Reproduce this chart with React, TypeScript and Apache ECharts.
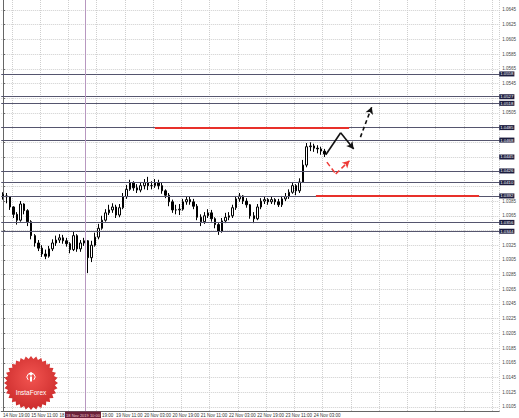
import React, { useEffect, useRef } from 'react';
import * as echarts from 'echarts';

// ---- data (EURUSD-like, one candle per slot) ----
const firstOpen = 1.0394;
const closes = [
  1.0392, 1.0391, 1.0377, 1.0367, 1.0359, 1.0381, 1.0372, 1.0357, 1.0338, 1.0328,
  1.0321, 1.0313, 1.0310, 1.0320, 1.0328, 1.0332, 1.0335, 1.0331, 1.0327, 1.0319,
  1.0338, 1.0320, 1.0328, 1.0331, 1.0308, 1.0325, 1.0336, 1.0348, 1.0359, 1.0369,
  1.0373, 1.0377, 1.0366, 1.0376, 1.0391, 1.0401, 1.0410, 1.0403, 1.0400, 1.0406,
  1.0410, 1.0406, 1.0406, 1.0410, 1.0406, 1.0399, 1.0393, 1.0384, 1.0373, 1.0373,
  1.0374, 1.0384, 1.0387, 1.0384, 1.0378, 1.0363, 1.0357, 1.0365, 1.0369, 1.0361,
  1.0353, 1.0344, 1.0358, 1.0363, 1.0365, 1.0376, 1.0388, 1.0392, 1.0385, 1.0380,
  1.0365, 1.0361, 1.0377, 1.0385, 1.0387, 1.0384, 1.0387, 1.0384, 1.0380, 1.0388,
  1.0391, 1.0397, 1.0406, 1.0399, 1.0411, 1.0434, 1.0459, 1.0460, 1.0457, 1.0456,
  1.0453, 1.0449,
];
const highs = [
  1.0397, 1.0396, 1.0389, 1.0378, 1.0370, 1.0385, 1.0382, 1.0374, 1.0359, 1.0340,
  1.0332, 1.0325, 1.0319, 1.0324, 1.0333, 1.0338, 1.0340, 1.0339, 1.0335, 1.0329,
  1.0344, 1.0340, 1.0332, 1.0335, 1.0332, 1.0331, 1.0342, 1.0354, 1.0365, 1.0374,
  1.0380, 1.0382, 1.0380, 1.0381, 1.0396, 1.0407, 1.0414, 1.0412, 1.0408, 1.0411,
  1.0415, 1.0418, 1.0412, 1.0415, 1.0414, 1.0410, 1.0401, 1.0396, 1.0387, 1.0380,
  1.0381, 1.0388, 1.0391, 1.0391, 1.0388, 1.0381, 1.0367, 1.0370, 1.0374, 1.0373,
  1.0363, 1.0355, 1.0362, 1.0369, 1.0370, 1.0380, 1.0392, 1.0396, 1.0393, 1.0389,
  1.0381, 1.0370, 1.0381, 1.0389, 1.0391, 1.0389, 1.0391, 1.0389, 1.0388, 1.0392,
  1.0396, 1.0401, 1.0411, 1.0408, 1.0416, 1.0441, 1.0464, 1.0465, 1.0463, 1.0461,
  1.0459, 1.0456,
];
const lows = [
  1.0387, 1.0382, 1.0373, 1.0362, 1.0353, 1.0357, 1.0367, 1.0351, 1.0333, 1.0323,
  1.0317, 1.0309, 1.0306, 1.0308, 1.0317, 1.0324, 1.0328, 1.0327, 1.0323, 1.0314,
  1.0317, 1.0316, 1.0316, 1.0324, 1.0287, 1.0302, 1.0323, 1.0333, 1.0346, 1.0357,
  1.0366, 1.0369, 1.0362, 1.0363, 1.0374, 1.0388, 1.0399, 1.0399, 1.0396, 1.0397,
  1.0401, 1.0400, 1.0401, 1.0403, 1.0401, 1.0395, 1.0389, 1.0378, 1.0369, 1.0367,
  1.0366, 1.0372, 1.0380, 1.0380, 1.0374, 1.0359, 1.0351, 1.0354, 1.0362, 1.0357,
  1.0348, 1.0339, 1.0342, 1.0355, 1.0359, 1.0362, 1.0373, 1.0384, 1.0381, 1.0376,
  1.0361, 1.0355, 1.0359, 1.0374, 1.0381, 1.0380, 1.0381, 1.0380, 1.0377, 1.0377,
  1.0385, 1.0388, 1.0395, 1.0393, 1.0396, 1.0410, 1.0431, 1.0453, 1.0452, 1.0450,
  1.0448, 1.0445,
];
const slotCount = 141; // candle slots incl. empty right margin
const labelEvery = 8;
const xLabels = [
  '14 Nov 19:00', '15 Nov 11:00', '18 Nov 03:00', '18 Nov 19:00', '19 Nov 11:00',
  '20 Nov 03:00', '20 Nov 19:00', '21 Nov 11:00', '22 Nov 03:00', '22 Nov 19:00',
  '23 Nov 11:00', '24 Nov 03:00',
];
// parts of labels left visible beside the crosshair date box: slot -> text
const partialLabels: Record<number, string> = { 16: '18', 24: '', 28: '19:00' };
const yTicks = [
  1.0105, 1.0125, 1.0145, 1.0165, 1.0185, 1.0205, 1.0225, 1.0245, 1.0265, 1.0285,
  1.0305, 1.0325, 1.0345, 1.0365, 1.0385, 1.0405, 1.0425, 1.0445, 1.0465, 1.0485,
  1.0505, 1.0525, 1.0545, 1.0565, 1.0585, 1.0605, 1.0625, 1.0645,
];
const yMin = 1.00994;
const yMax = 1.06586;
const levels = [1.0558, 1.0527, 1.0518, 1.0485, 1.0468, 1.0426, 1.0410, 1.0392, 1.0356, 1.0344];
const currentPrice = 1.0445;
const redLevels = [
  { price: 1.0485, from: 43, to: 98 },
  { price: 1.0392, from: 88.6, to: 134.8 },
];
const crosshairSlot = 23.4;
const crosshairLabel = '18 Nov 2019 10:00';
const blackPath = [[91.4, 1.0448], [95.6, 1.0478], [99.3, 1.0456]];
const redPath = [[91.7, 1.0438], [94.2, 1.0422], [98.1, 1.0440]];
const dashedPath = [[101.2, 1.0472], [104.4, 1.0513]];

const FONT = 'Liberation Sans';

function pathSegments(pts: number[][]) {
  const segs: any[] = [];
  for (let i = 0; i < pts.length - 1; i++) {
    const last = i === pts.length - 2;
    segs.push([
      { coord: pts[i], symbol: 'none' },
      { coord: pts[i + 1], symbol: last ? 'arrow' : 'none', symbolSize: last ? [6, 7] : 0 },
    ]);
  }
  return segs;
}

function starPoints(cx: number, cy: number, ro: number, ri: number, n: number) {
  const pts: number[][] = [];
  for (let i = 0; i < n * 2; i++) {
    const r = i % 2 === 0 ? ro : ri;
    const a = (Math.PI * i) / n - Math.PI / 2;
    pts.push([cx + r * Math.cos(a), cy + r * Math.sin(a)]);
  }
  return pts;
}

export default function App() {
  const ref = useRef<HTMLDivElement>(null);
  useEffect(() => {
    document.body.style.margin = '0';
    const chart = echarts.init(ref.current!, undefined, { renderer: 'svg' });
    const categories = Array.from({ length: slotCount }, (_, i) => String(i));
    const candles = closes.map((c, i) => [i === 0 ? firstOpen : closes[i - 1], c, lows[i], highs[i]]);
    const boxed = [...levels, currentPrice];
    // axis labels that the price boxes cover in the picture are not drawn
    const visibleTickLabels = yTicks.filter((t) => boxed.every((b) => Math.abs(b - t) > 0.0006));

    const boxLabel = {
      show: true,
      position: 'end',
      distance: 0,
      formatter: (p: any) => Number(p.value).toFixed(4),
      backgroundColor: '#1c1c3e',
      color: '#ffffff',
      fontSize: 4.3,
      lineHeight: 5,
      fontFamily: FONT,
      padding: [0, 1, 0, 1],
    };

    const labelFor = (i: number) => {
      if (i in partialLabels) return partialLabels[i];
      return i % labelEvery === 0 ? xLabels[i / labelEvery] ?? '' : '';
    };

    const option: any = {
      animation: false,
      backgroundColor: '#ffffff',
      grid: { left: 0, right: 17, top: 0, bottom: 7, containLabel: false },
      xAxis: [
        {
          type: 'category',
          data: categories,
          boundaryGap: true,
          axisLine: { show: true, lineStyle: { color: '#666', width: 1 } },
          axisTick: { show: false },
          axisLabel: {
            interval: 0,
            formatter: (_v: string, i: number) => labelFor(i),
            fontSize: 4.5,
            fontFamily: FONT,
            color: '#333',
            align: 'left',
            margin: 2,
          },
          splitLine: {
            show: true,
            interval: (i: number) => (i - 3) % labelEvery === 0,
            lineStyle: { color: '#cfcfcf', type: 'dotted', width: 1 },
          },
        },
        { type: 'value', min: -0.5, max: slotCount - 0.5, show: false },
      ],
      yAxis: {
        type: 'value',
        position: 'right',
        min: yMin,
        max: yMax,
        axisLine: { show: true, lineStyle: { color: '#666', width: 1 } },
        axisTick: { show: true, length: 2, customValues: yTicks, lineStyle: { color: '#666' } },
        axisLabel: {
          customValues: visibleTickLabels,
          formatter: (v: number) => v.toFixed(4),
          fontSize: 4.5,
          fontFamily: FONT,
          color: '#444',
          margin: 3,
        },
        splitLine: { show: true, lineStyle: { color: '#cfcfcf', type: 'dotted', width: 1 } },
      },
      series: [
        {
          type: 'candlestick',
          xAxisIndex: 0,
          data: candles,
          barWidth: 2,
          itemStyle: {
            color: '#ffffff',
            color0: '#000000',
            borderColor: '#000000',
            borderColor0: '#000000',
            borderWidth: 1,
          },
          markLine: {
            silent: true,
            precision: 4,
            symbol: ['none', 'none'],
            lineStyle: { color: '#55556e', width: 1, type: 'solid' },
            label: boxLabel,
            data: [
              ...levels.map((v) => ({ yAxis: v })),
              { yAxis: currentPrice, lineStyle: { color: 'rgba(0,0,0,0)' } },
            ],
          },
        },
        {
          type: 'line',
          xAxisIndex: 1,
          data: [],
          markLine: {
            silent: true,
            precision: 4,
            symbol: ['none', 'none'],
            label: { show: false },
            data: [
              [{ coord: [crosshairSlot, yMin] }, { coord: [crosshairSlot, yMax] }],
            ],
            lineStyle: { color: '#b898c0', width: 1, type: 'solid' },
          },
        },
        {
          type: 'line',
          xAxisIndex: 1,
          data: [],
          markLine: {
            silent: true,
            precision: 4,
            symbol: ['none', 'none'],
            label: { show: false },
            lineStyle: { color: '#e8302a', width: 2, type: 'solid' },
            data: redLevels.map((r) => [{ coord: [r.from, r.price] }, { coord: [r.to, r.price] }]),
          },
        },
        {
          type: 'line',
          xAxisIndex: 1,
          data: [],
          markLine: {
            silent: true,
            precision: 4,
            symbol: ['none', 'none'],
            label: { show: false },
            lineStyle: { color: '#111', width: 1.6, type: 'solid' },
            data: pathSegments(blackPath),
          },
        },
        {
          type: 'line',
          xAxisIndex: 1,
          data: [],
          markLine: {
            silent: true,
            precision: 4,
            symbol: ['none', 'none'],
            label: { show: false },
            lineStyle: { color: '#111', width: 1.6, type: [4, 3] },
            data: pathSegments(dashedPath),
          },
        },
        {
          type: 'line',
          xAxisIndex: 1,
          data: [],
          markLine: {
            silent: true,
            precision: 4,
            symbol: ['none', 'none'],
            label: { show: false },
            lineStyle: { color: '#ee3a36', width: 1.5, type: [5, 3] },
            data: pathSegments(redPath),
          },
        },
      ],
      graphic: [
        {
          type: 'polygon',
          z: 100,
          shape: { points: starPoints(31, 383, 27, 24, 32) },
          style: {
            fill: new echarts.graphic.RadialGradient(0.5, 0.4, 0.6, [
              { offset: 0, color: '#f25450' },
              { offset: 1, color: '#cc2c2c' },
            ]),
          },
        },
        {
          type: 'circle',
          z: 101,
          shape: { cx: 31, cy: 374, r: 1.6 },
          style: { fill: '#ffffff' },
        },
        {
          type: 'rect',
          z: 101,
          shape: { x: 30, y: 376.5, width: 2, height: 5 },
          style: { fill: '#ffffff' },
        },
        {
          type: 'arc',
          z: 101,
          shape: { cx: 31, cy: 377, r: 4, startAngle: Math.PI * 0.75, endAngle: Math.PI * 2.25 },
          style: { stroke: '#ffffff', lineWidth: 1, fill: 'none' },
        },
        {
          type: 'text',
          z: 101,
          x: 31,
          y: 392,
          style: {
            text: 'InstaForex',
            fill: '#ffffff',
            fontSize: 6.5,
            fontFamily: FONT,
            align: 'center',
            verticalAlign: 'middle',
          },
        },
        {
          type: 'rect',
          z: 100,
          shape: { x: 65, y: 411.5, width: 36, height: 6.5 },
          style: { fill: '#6b2038' },
        },
        {
          type: 'text',
          z: 101,
          x: 83,
          y: 415,
          style: {
            text: crosshairLabel,
            fill: '#e8c8d0',
            fontSize: 4,
            fontFamily: FONT,
            align: 'center',
            verticalAlign: 'middle',
          },
        },
      ],
    };
    chart.setOption(option);
    return () => chart.dispose();
  }, []);
  return <div ref={ref} style={{ width: 519, height: 418, position: 'absolute', left: 0, top: 0 }} />;
}
